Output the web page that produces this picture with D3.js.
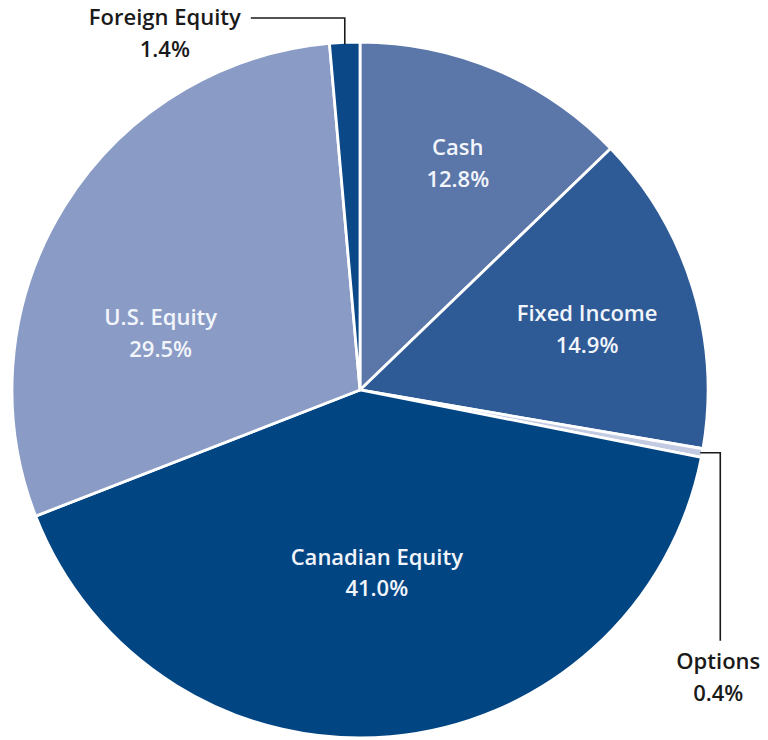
<!DOCTYPE html>
<html>
<head>
<meta charset="utf-8">
<script src="https://cdn.jsdelivr.net/npm/d3@7/dist/d3.min.js"></script>
<style>
  html, body { margin: 0; padding: 0; background: #fff; }
  svg { display: block; }
  text { font-family: "Open Sans", "Noto Sans", sans-serif; font-weight: 600; font-size: 22px; }
</style>
</head>
<body>
<div id="chart"></div>
<script>
// ---- data ----
const categories = ["Cash", "Fixed Income", "Options", "Canadian Equity", "U.S. Equity", "Foreign Equity"];
const values = [12.8, 14.9, 0.4, 41.0, 29.5, 1.4];
const valueLabels = ["12.8%", "14.9%", "0.4%", "41.0%", "29.5%", "1.4%"];

// ---- styling / layout (not data) ----
const colors = ["#5b77a9", "#2e5b96", "#c3cbe3", "#024583", "#8a9cc5", "#0b4888"];
const W = 768, H = 740;
const cx = 360, cy = 390, R = 348;
// inside label placement: [radius fraction, angle nudge in degrees]
const insideLabel = {
  "Cash": [0.69, 1],
  "Fixed Income": [0.67, 4],
  "Canadian Equity": [0.55, 0],
  "U.S. Equity": [0.59, -18]
};
// outside labels: leader line description
const outsideLabel = {
  "Foreign Equity": { elbowDy: -24, run: -94, textDx: -86, textDy: 7 },
  "Options": { elbowDx: 20, drop: 188, textDy: 28 }
};

const data = categories.map((c, i) => ({ name: c, value: values[i], label: valueLabels[i], color: colors[i] }));

const svg = d3.select("#chart").append("svg").attr("width", W).attr("height", H);
const g = svg.append("g").attr("transform", `translate(${cx},${cy})`);

const pie = d3.pie().value(d => d.value).sort(null);
const arc = d3.arc().innerRadius(0).outerRadius(R);
const arcs = pie(data);

g.selectAll("path.slice").data(arcs).join("path")
  .attr("class", "slice")
  .attr("d", arc)
  .attr("fill", d => d.data.color)
  .attr("stroke", "#ffffff")
  .attr("stroke-width", 2.8)
  .attr("stroke-linejoin", "round");

const deg = Math.PI / 180;
function polar(a, r) { return [r * Math.sin(a), -r * Math.cos(a)]; }

// inside labels
arcs.filter(d => insideLabel[d.data.name]).forEach(d => {
  const [fr, nudge] = insideLabel[d.data.name];
  const mid = (d.startAngle + d.endAngle) / 2 + nudge * deg;
  const [x, y] = polar(mid, R * fr);
  const t = g.append("text").attr("text-anchor", "middle").attr("fill", "#f2f5fb")
    .attr("x", x).attr("y", y);
  t.append("tspan").attr("x", x).attr("dy", "-0.73em").text(d.data.name);
  t.append("tspan").attr("x", x).attr("dy", "1.45em").text(d.data.label);
});

// outside labels with leader lines
arcs.filter(d => outsideLabel[d.data.name]).forEach(d => {
  const cfg = outsideLabel[d.data.name];
  const mid = (d.startAngle + d.endAngle) / 2;
  const [ex, ey] = polar(mid, R - 2);
  const lineG = g.append("g");
  if (d.data.name === "Foreign Equity") {
    const ty = -R + cfg.elbowDy;
    lineG.append("path")
      .attr("d", `M${ex},${ey} L${ex},${ty} L${ex + cfg.run},${ty}`)
      .attr("fill", "none").attr("stroke", "#1a1a1a").attr("stroke-width", 1.6);
    const tx = ex + cfg.run + cfg.textDx;
    const t = g.append("text").attr("text-anchor", "middle").attr("fill", "#1a1a1a")
      .attr("x", tx).attr("y", ty + cfg.textDy);
    t.append("tspan").attr("x", tx).attr("dy", 0).text(d.data.name);
    t.append("tspan").attr("x", tx).attr("dy", "1.45em").text(d.data.label);
  } else {
    const vx = ex + cfg.elbowDx;
    const by = ey + cfg.drop;
    lineG.append("path")
      .attr("d", `M${ex},${ey} L${vx},${ey} L${vx},${by}`)
      .attr("fill", "none").attr("stroke", "#1a1a1a").attr("stroke-width", 1.6);
    const tx = vx - 2;
    const t = g.append("text").attr("text-anchor", "middle").attr("fill", "#1a1a1a")
      .attr("x", tx).attr("y", by + cfg.textDy);
    t.append("tspan").attr("x", tx).attr("dy", 0).text(d.data.name);
    t.append("tspan").attr("x", tx).attr("dy", "1.45em").text(d.data.label);
  }
});
</script>
</body>
</html>
